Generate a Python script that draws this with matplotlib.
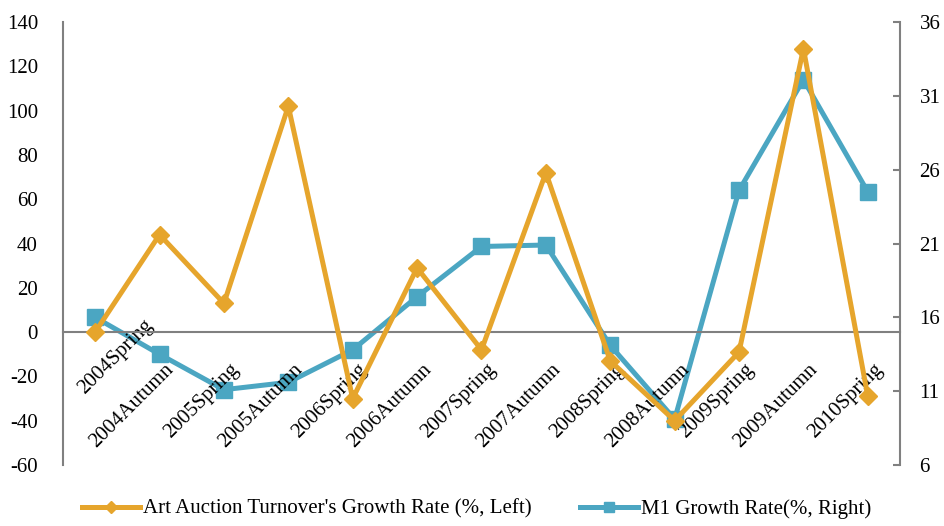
import matplotlib.pyplot as plt
import matplotlib.transforms as mtransforms
import numpy as np

plt.rcParams['font.family'] = ['Liberation Serif', 'DejaVu Serif']
plt.rcParams['axes.unicode_minus'] = False

periods = ['2004Spring', '2004Autumn', '2005Spring', '2005Autumn', '2006Spring',
           '2006Autumn', '2007Spring', '2007Autumn', '2008Spring', '2008Autumn',
           '2009Spring', '2009Autumn', '2010Spring']
art_growth = [0, 44, 13, 102, -30, 29, -8, 72, -13, -40, -9, 128, -29]
m1_growth = [16.0, 13.5, 11.1, 11.6, 13.8, 17.4, 20.8, 20.9, 14.1, 9.1, 24.6, 32.1, 24.5]

left_ticks = np.arange(-60, 141, 20)
right_ticks = np.arange(6, 37, 5)

orange = '#E6A52C'
blue = '#4BA6C2'
gray = '#808080'

fig = plt.figure(figsize=(9.44, 5.26), dpi=100)
ax = fig.add_axes([0.0667, 0.116, 0.8867, 0.842])
ax2 = ax.twinx()

x = np.arange(len(periods))
l1, = ax.plot(x, art_growth, color=orange, lw=3.6, marker='D', ms=9, zorder=3,
              label="Art Auction Turnover's Growth Rate (%, Left)")
l2, = ax2.plot(x, m1_growth, color=blue, lw=3.6, marker='s', ms=11, zorder=3,
               label='M1 Growth Rate(%, Right)')

ax.set_xlim(-0.5, len(periods) - 0.5)
ax.set_ylim(-60, 140)
ax.set_yticks(left_ticks)
ax2.set_ylim(6, 36)
ax2.set_yticks(right_ticks)

# category axis crosses at zero on the left scale
ax.spines['bottom'].set_position(('data', 0))
ax.spines['bottom'].set_color(gray)
ax.spines['bottom'].set_linewidth(1.5)
ax.spines['top'].set_visible(False)
ax.spines['right'].set_visible(False)
ax.spines['left'].set_color(gray)
ax.spines['left'].set_linewidth(1.5)
ax2.spines['top'].set_visible(False)
ax2.spines['bottom'].set_visible(False)
ax2.spines['left'].set_visible(False)
ax2.spines['right'].set_color(gray)
ax2.spines['right'].set_linewidth(1.5)

ax.set_xticks(x)
ax.set_xticklabels(periods, rotation=45, ha='right', rotation_mode='anchor')
ax.tick_params(axis='x', length=0, pad=20, labelsize=15)
ax.tick_params(axis='y', length=0, pad=18, labelsize=15)
ax2.tick_params(axis='y', direction='in', length=5, color=gray, width=1.5,
                pad=14, labelsize=15)

# nudge labels a little right; the first one sits higher, as in the original
for i, lbl in enumerate(ax.get_xticklabels()):
    dx, dy = (48, 44) if i == 0 else (5, 0)
    off = mtransforms.ScaledTranslation(dx / 100, dy / 100, fig.dpi_scale_trans)
    lbl.set_transform(lbl.get_transform() + off)

ax.set_zorder(ax2.get_zorder() + 1)
ax.patch.set_visible(False)

fig.legend(handles=[l1, l2], loc='lower center', bbox_to_anchor=(0.505, -0.022),
           ncol=2, frameon=False, fontsize=15, columnspacing=2.3,
           handlelength=2.8, handletextpad=0.15, markerscale=0.7)

fig.savefig('out.png', dpi=100)
